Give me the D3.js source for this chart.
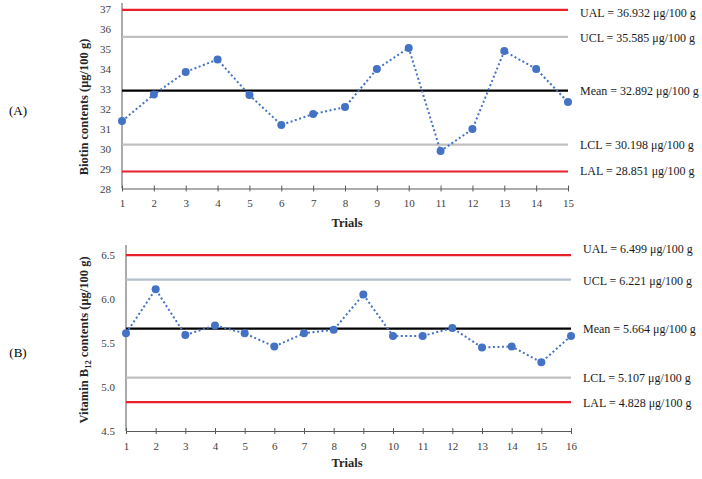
<!DOCTYPE html>
<html><head><meta charset="utf-8">
<script src="https://cdn.jsdelivr.net/npm/d3@7"></script>
<style>
body{margin:0;background:#fff;}
svg{display:block;font-family:"Liberation Serif","Times New Roman",serif;}
</style></head>
<body><svg id="c" width="702" height="479"></svg>
<script>
// ---- Data ----
const trialsA = [1,2,3,4,5,6,7,8,9,10,11,12,13,14,15];
const biotin = [31.37,32.70,33.83,34.45,32.67,31.18,31.72,32.07,33.97,35.03,29.87,30.97,34.87,33.98,32.32];
const limitNamesA = ["UAL","UCL","Mean","LCL","LAL"];
const limitValsA = [36.932,35.585,32.892,30.198,28.851];
const yTicksA = [28,29,30,31,32,33,34,35,36,37];

const trialsB = [1,2,3,4,5,6,7,8,9,10,11,12,13,14,15,16];
const vitB12 = [5.61,6.11,5.59,5.70,5.61,5.46,5.61,5.65,6.05,5.58,5.58,5.67,5.45,5.46,5.28,5.58];
const limitNamesB = ["UAL","UCL","Mean","LCL","LAL"];
const limitValsB = [6.499,6.221,5.664,5.107,4.828];
const yTicksB = [4.5,5.0,5.5,6.0,6.5];

const svg = d3.select("#c");
const lineColors = {UAL:"#e8202a", UCL:"#bfbfbf", Mean:"#000000", LCL:"#bfbfbf", LAL:"#e8202a"};

function panel(cfg){
  const g = svg.append("g");
  const x = d3.scaleLinear().domain(cfg.xDomain).range(cfg.xRange);
  const y = d3.scaleLinear().domain(cfg.yDomain).range(cfg.yRange);
  // axes
  const yAx = g.append("g").attr("transform",`translate(${cfg.xRange[0]},0)`)
    .call(d3.axisLeft(y).tickValues(cfg.yTicks).tickSize(0).tickPadding(11).tickFormat(cfg.yFmt));
  yAx.select(".domain").remove();
  g.append("line").attr("x1",cfg.xRange[0]).attr("x2",cfg.xRange[0])
    .attr("y1",cfg.axisTop).attr("y2",cfg.yRange[0]).attr("stroke","#595959").attr("stroke-width",1);
  const xAx = g.append("g").attr("transform",`translate(0,${cfg.yRange[0]})`)
    .call(d3.axisBottom(x).tickValues(cfg.trials).tickSizeInner(3).tickSizeOuter(0).tickPadding(8).tickFormat(d3.format("d")));
  xAx.select(".domain").attr("stroke","#595959");
  xAx.selectAll(".tick line").attr("y1",-3).attr("y2",3).attr("stroke","#595959");
  [yAx,xAx].forEach(a=>a.selectAll("text").attr("font-family","Liberation Serif").attr("font-size",11).attr("fill","#404040"));

  // limit lines
  cfg.names.forEach((n,i)=>{
    const yy = y(cfg.limits[i]);
    g.append("line").attr("x1",cfg.xRange[0]).attr("x2",cfg.xRange[1])
      .attr("y1",yy).attr("y2",yy)
      .attr("stroke", (cfg.colors && cfg.colors[n]) || lineColors[n]).attr("stroke-width",2.2);
    g.append("text").attr("x",cfg.labelX).attr("y",yy + (cfg.labelOff[i]||0))
      .attr("dominant-baseline","central").attr("font-size",12).attr("fill","#1a1a1a")
      .text(`${n} = ${cfg.limits[i].toFixed(3)} \u03bcg/100 g`);
  });

  // data line
  const line = d3.line().x((d,i)=>x(cfg.trials[i])).y(d=>y(d));
  g.append("path").datum(cfg.values).attr("d",line).attr("fill","none")
    .attr("stroke","#4472c4").attr("stroke-width",2).attr("stroke-dasharray","2,2.5");
  g.selectAll("circle.pt").data(cfg.values).enter().append("circle")
    .attr("cx",(d,i)=>x(cfg.trials[i])).attr("cy",d=>y(d)).attr("r",4).attr("fill","#4472c4");

  // titles
  g.append("text").attr("x",347).attr("y",cfg.xTitleY).attr("text-anchor","middle")
    .attr("dominant-baseline","central").attr("font-weight","bold").attr("font-size",12.5).attr("fill","#262626").text("Trials");
  const yt = g.append("text").attr("transform",`translate(84,${cfg.yTitleY}) rotate(-90)`)
    .attr("text-anchor","middle").attr("dominant-baseline","central")
    .attr("font-weight","bold").attr("font-size",12.5).attr("fill","#262626");
  cfg.yTitle(yt);
  g.append("text").attr("x",18).attr("y",cfg.panelY).attr("text-anchor","middle")
    .attr("dominant-baseline","central").attr("font-size",13).attr("fill","#000").text(cfg.panelLabel);
}

panel({
  trials: trialsA, values: biotin, names: limitNamesA, limits: limitValsA, yTicks: yTicksA,
  xDomain:[1,15], xRange:[122,568], yDomain:[28,37], yRange:[188.5,8.5], axisTop:3,
  yFmt: d3.format("d"), labelX:580, labelOff:[3,1,0,0,0],
  xTitleY:223, yTitleY:107, panelY:110, panelLabel:"(A)",
  yTitle: t=>t.text("Biotin contents (\u03bcg/100 g)")
});

panel({
  trials: trialsB, values: vitB12, names: limitNamesB, limits: limitValsB, yTicks: yTicksB,
  xDomain:[1,16], xRange:[126,571], yDomain:[4.5,6.5], yRange:[431,255], axisTop:245,
  yFmt: d3.format(".1f"), labelX:583, labelOff:[-6,1,0,0,1],
  colors:{UCL:"#b3c0cf"},
  xTitleY:463, yTitleY:340, panelY:352, panelLabel:"(B)",
  yTitle: t=>{ t.append("tspan").text("Vitamin B");
    t.append("tspan").attr("font-size",8.5).attr("dy",4).text("12");
    t.append("tspan").attr("dy",-4).text(" contents (\u03bcg/100 g)"); }
});
</script></body></html>
